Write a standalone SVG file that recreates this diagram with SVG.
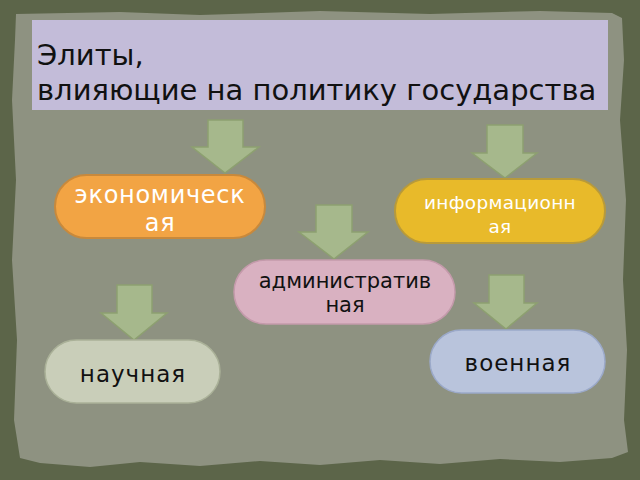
<svg xmlns="http://www.w3.org/2000/svg" width="640" height="480" viewBox="0 0 640 480">
<style>
.ar{fill:#a6b88c;stroke:#8da070;stroke-width:1.5}
.t{font-family:"DejaVu Sans","Noto Sans",sans-serif;text-anchor:middle}
.w{fill:#ffffff}
.b{fill:#111111}
</style>
<rect x="0" y="0" width="640" height="480" fill="#5c6549"/>
<path d="M16 14 L120 12 L200 15 L320 11 L430 14 L540 11 L612 13 L622 18 L624 60 L620 120 L626 200 L623 280 L627 350 L624 420 L628 452 L612 458 L560 462 L500 459 L440 464 L380 460 L320 465 L260 461 L200 466 L140 462 L90 467 L40 463 L20 458 L14 420 L17 340 L12 260 L16 180 L12 100 L15 40 Z" fill="#8e9281"/>
<g id="title">
<rect x="32" y="20" width="576" height="90" fill="#c3bcd9"/>
<text x="37" y="65" font-family="DejaVu Sans, Noto Sans, sans-serif" font-size="29" fill="#111">Элиты,</text>
<text x="37" y="100" font-family="DejaVu Sans, Noto Sans, sans-serif" font-size="29" fill="#111">влияющие на политику государства</text>
</g>
<g id="connectors">
<path class="ar" d="M208 120 H243 V147 H259 L225 173 L192 147 H208 Z"/>
<path class="ar" d="M487 125 H523 V153 H537 L505 178 L472 153 H487 Z"/>
<path class="ar" d="M316 205 H352 V232 H368 L334 259 L299 232 H316 Z"/>
<path class="ar" d="M117 285 H152 V313 H167 L134 340 L101 313 H117 Z"/>
<path class="ar" d="M489 275 H524 V303 H537 L506 329 L474 303 H489 Z"/>
</g>
<g id="econ">
<rect x="55" y="175" width="210" height="63" rx="31.5" fill="#f2a444" stroke="#c8893c" stroke-width="2"/>
<text class="t w" x="160" y="203" font-size="24" letter-spacing="0.7">экономическ</text>
<text class="t w" x="160" y="231" font-size="24" letter-spacing="0.7">ая</text>
</g>
<g id="info">
<rect x="395" y="179" width="210" height="64" rx="32" fill="#e8ba2a" stroke="#b89a3a" stroke-width="2"/>
<text class="t w" x="500" y="209" font-size="18.5" letter-spacing="0.3">информационн</text>
<text class="t w" x="500" y="233" font-size="18.5" letter-spacing="0.3">ая</text>
</g>
<g id="admin">
<rect x="234" y="260" width="221" height="64" rx="32" fill="#d9b1c1" stroke="#c49aab" stroke-width="1.5"/>
<text class="t b" x="345" y="288" font-size="21">административ</text>
<text class="t b" x="345" y="312" font-size="21">ная</text>
</g>
<g id="nauch">
<rect x="45" y="340" width="175" height="63" rx="31.5" fill="#c9ceb9" stroke="#aab198" stroke-width="1.5"/>
<text class="t b" x="133" y="382" font-size="23" letter-spacing="1">научная</text>
</g>
<g id="voen">
<rect x="430" y="330" width="175" height="63" rx="31.5" fill="#b9c4dc" stroke="#9ba9c9" stroke-width="1.5"/>
<text class="t b" x="518" y="371" font-size="23" letter-spacing="1">военная</text>
</g>
</svg>
